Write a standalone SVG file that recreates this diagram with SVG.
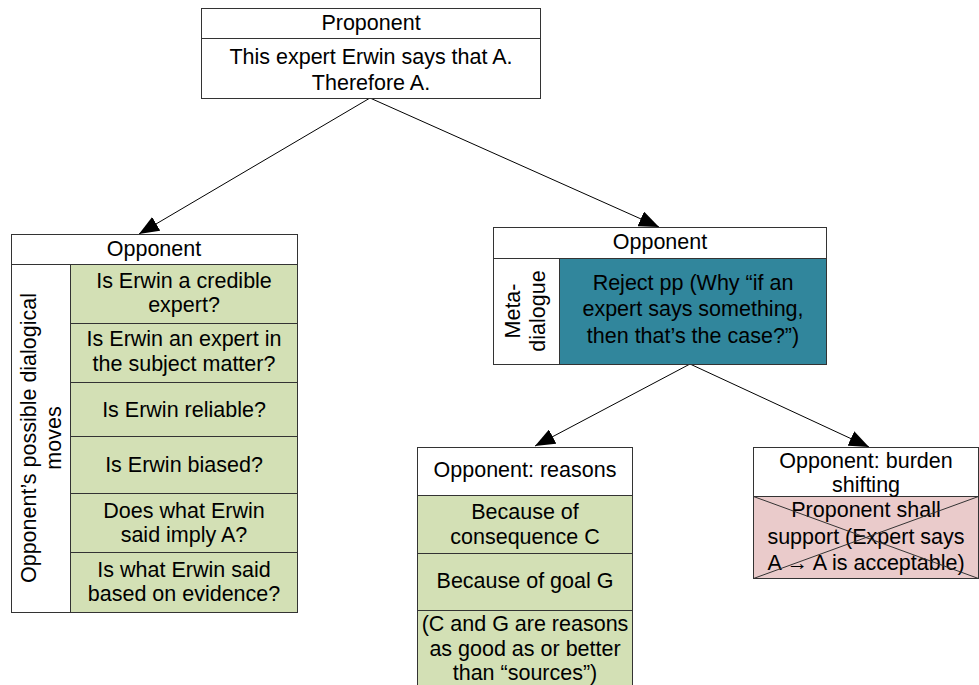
<svg xmlns="http://www.w3.org/2000/svg" width="979" height="685" viewBox="0 0 979 685">
<defs>
<style>
.box{fill:#fff;stroke:#333;stroke-width:1}
.g{fill:#D3E0B5;stroke:#333;stroke-width:1}
.teal{fill:#31869C;stroke:#333;stroke-width:1}
.pink{fill:#EACBCB;stroke:#333;stroke-width:1}
.t{font-family:"Liberation Sans",Arial,sans-serif;font-size:21.5px;fill:#000;text-anchor:middle}
.c{stroke:#000;stroke-width:1;fill:none;marker-end:url(#ah)}
.x{stroke:#333;stroke-width:1}
</style>
<marker id="ah" markerUnits="userSpaceOnUse" markerWidth="22" markerHeight="16" refX="20" refY="8" orient="auto">
<path d="M0,0 L20,8 L0,16 z" fill="#000"/>
</marker>
</defs>
<rect width="979" height="685" fill="#fff"/>
<g id="connectors">
<line class="c" x1="370" y1="98" x2="139" y2="234"/>
<line class="c" x1="370" y1="98" x2="659" y2="227"/>
<line class="c" x1="690" y1="364" x2="535" y2="446"/>
<line class="c" x1="690" y1="364" x2="869" y2="447"/>
</g>
<g id="proponent">
<rect class="box" x="201.5" y="8.5" width="339" height="90"/>
<line class="x" x1="201.5" y1="38.5" x2="540.5" y2="38.5"/>
<text class="t" x="371" y="30">Proponent</text>
<text class="t" x="371" y="64">This expert Erwin says that A.</text>
<text class="t" x="371" y="90">Therefore A.</text>
</g>
<g id="opponent-left">
<rect class="box" x="11.5" y="234.5" width="286" height="378"/>
<line class="x" x1="11.5" y1="264.5" x2="297.5" y2="264.5"/>
<rect class="g" x="70.5" y="264.5" width="227" height="59"/>
<rect class="g" x="70.5" y="323.5" width="227" height="59"/>
<rect class="g" x="70.5" y="382.5" width="227" height="54"/>
<rect class="g" x="70.5" y="436.5" width="227" height="57"/>
<rect class="g" x="70.5" y="493.5" width="227" height="59"/>
<rect class="g" x="70.5" y="552.5" width="227" height="60"/>
<text class="t" x="154" y="256">Opponent</text>
<text class="t" x="184" y="288">Is Erwin a credible</text>
<text class="t" x="184" y="312">expert?</text>
<text class="t" x="184" y="346">Is Erwin an expert in</text>
<text class="t" x="184" y="371">the subject matter?</text>
<text class="t" x="184" y="417">Is Erwin reliable?</text>
<text class="t" x="184" y="472">Is Erwin biased?</text>
<text class="t" x="184" y="518">Does what Erwin</text>
<text class="t" x="184" y="542">said imply A?</text>
<text class="t" x="184" y="577">Is what Erwin said</text>
<text class="t" x="184" y="601">based on evidence?</text>
<text class="t" transform="translate(35.5,438) rotate(-90)">Opponent’s possible dialogical</text>
<text class="t" transform="translate(60.5,438) rotate(-90)">moves</text>
</g>
<g id="opponent-right">
<rect class="box" x="493.5" y="227.5" width="333" height="137"/>
<line class="x" x1="493.5" y1="258.5" x2="826.5" y2="258.5"/>
<rect class="teal" x="559.5" y="258.5" width="267" height="106"/>
<text class="t" x="660" y="249">Opponent</text>
<text class="t" x="693" y="290">Reject pp (Why “if an</text>
<text class="t" x="693" y="316">expert says something,</text>
<text class="t" x="693" y="343">then that’s the case?”)</text>
<text class="t" transform="translate(519.5,311) rotate(-90)">Meta-</text>
<text class="t" transform="translate(544.5,311) rotate(-90)">dialogue</text>
</g>
<g id="opponent-reasons">
<rect class="box" x="417.5" y="447.5" width="215" height="48"/>
<rect class="g" x="417.5" y="495.5" width="215" height="58"/>
<rect class="g" x="417.5" y="553.5" width="215" height="57"/>
<rect class="g" x="417.5" y="610.5" width="215" height="80"/>
<text class="t" x="525" y="477">Opponent: reasons</text>
<text class="t" x="525" y="519">Because of</text>
<text class="t" x="525" y="544">consequence C</text>
<text class="t" x="525" y="588">Because of goal G</text>
<text class="t" x="525" y="631">(C and G are reasons</text>
<text class="t" x="525" y="656">as good as or better</text>
<text class="t" x="525" y="680">than “sources”)</text>
</g>
<g id="opponent-burden">
<rect class="box" x="753.5" y="447.5" width="225" height="49"/>
<rect class="pink" x="753.5" y="496.5" width="225" height="82"/>
<text class="t" x="866" y="468">Opponent: burden</text>
<text class="t" x="866" y="492">shifting</text>
<text class="t" x="866" y="517">Proponent shall</text>
<text class="t" x="866" y="544">support (Expert says</text>
<text class="t" x="866" y="570">A → A is acceptable)</text>
<line class="x" x1="753.5" y1="496.5" x2="978.5" y2="578.5"/>
<line class="x" x1="753.5" y1="578.5" x2="978.5" y2="496.5"/>
</g>
</svg>
